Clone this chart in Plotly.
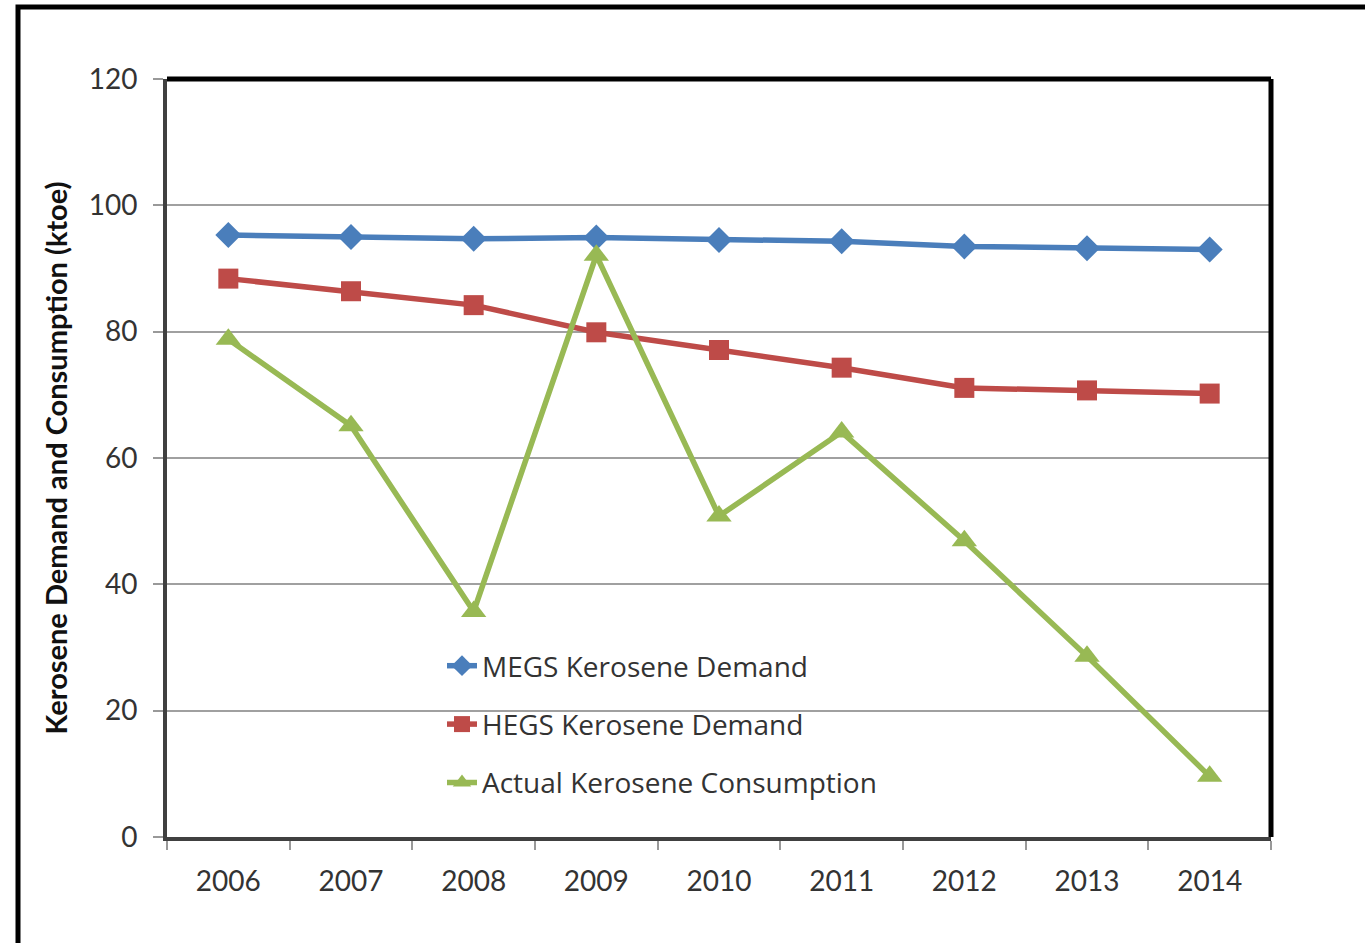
import plotly.graph_objects as go

years = ["2006", "2007", "2008", "2009", "2010", "2011", "2012", "2013", "2014"]
megs = [95.3, 95.0, 94.7, 94.9, 94.5, 94.3, 93.5, 93.2, 93.0]
hegs = [88.4, 86.4, 84.2, 79.9, 77.1, 74.3, 71.1, 70.7, 70.2]
actual = [78.8, 65.1, 35.7, 92.1, 50.8, 64.1, 46.9, 28.6, 9.6]
y_ticks = [0, 20, 40, 60, 80, 100, 120]

FONT = "Lato"
LEG_FONT = "Open Sans"

fig = go.Figure()
fig.add_trace(go.Scatter(x=years, y=megs, name="MEGS Kerosene Demand", mode="lines+markers",
                         line=dict(color="#4A7EBB", width=5.5), legendgroup="a",
                         marker=dict(symbol="diamond", size=20, color="#4A7EBB")))
fig.add_trace(go.Scatter(x=years, y=hegs, name="HEGS Kerosene Demand", mode="lines+markers",
                         line=dict(color="#BE4B48", width=5.5), legendgroup="b",
                         marker=dict(symbol="square", size=20, color="#BE4B48")))
fig.add_trace(go.Scatter(x=years, y=actual, name="Actual Kerosene Consumption", mode="lines+markers",
                         line=dict(color="#98B954", width=5.5), legendgroup="c",
                         marker=dict(symbol="triangle-up", size=22, color="#98B954")))

L, R, T, B = 167, 1271, 79, 837
W, H = 1365, 943
pw, ph = R - L, B - T

fig.update_layout(
    width=W, height=H,
    margin=dict(l=L, r=W - R, t=T, b=H - B, pad=0),
    paper_bgcolor="white", plot_bgcolor="white",
    font=dict(family=FONT, color="#333333"),
    showlegend=True,
    legend=dict(x=(442 - L) / pw, xanchor="left", y=(B - 641) / ph, yanchor="top",
                font=dict(size=28, color="#333333", family=LEG_FONT),
                bgcolor="rgba(0,0,0,0)", traceorder="grouped", tracegroupgap=19),
    xaxis=dict(type="category", range=[-0.5, 8.5], showgrid=False,
               showline=True, linecolor="#404040", linewidth=4,
               ticks="outside", tickson="boundaries", ticklen=9, tickcolor="#999999", tickwidth=2,
               ticklabelstandoff=16,
               tickfont=dict(size=28, color="#333333", family=FONT)),
    yaxis=dict(range=[0, 120], tickvals=y_ticks, showgrid=True, gridcolor="#A0A0A0", gridwidth=1.5,
               showline=True, linecolor="#404040", linewidth=4, zeroline=False,
               ticks="outside", ticklen=10, tickcolor="#999999", tickwidth=2,
               ticklabelstandoff=10,
               tickfont=dict(size=28, color="#333333", family=FONT),
               title=dict(text="<b>Kerosene Demand and Consumption (ktoe)</b>",
                          font=dict(size=29, color="#111111", family=FONT), standoff=14)),
)

# plot-area top and right border (thick black)
fig.add_shape(type="line", xref="paper", yref="paper", x0=0, x1=1, y0=1, y1=1,
              line=dict(color="black", width=5))
fig.add_shape(type="line", xref="paper", yref="paper", x0=1, x1=1, y0=0, y1=1,
              line=dict(color="black", width=5))

# outer chart frame
fx0 = (18 - L) / pw
fy1 = (B - 7) / ph
fig.add_shape(type="rect", xref="paper", yref="paper", x0=fx0, x1=(W + 40 - L) / pw,
              y0=(B - (H + 40)) / ph, y1=fy1, line=dict(color="black", width=5), layer="below")

fig.write_html("out.html")
